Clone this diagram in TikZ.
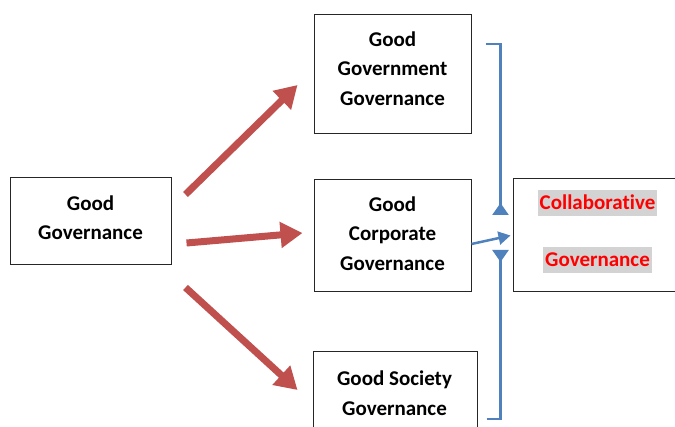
\documentclass[tikz,border=0pt]{standalone}
\usepackage{fontspec}
\setmainfont[Ligatures=NoCommon]{Carlito}
\usepackage{tikz}
\usetikzlibrary{
        arrows.meta,
        positioning
    }
\definecolor{arrowred}{RGB}{192,80,77}
\definecolor{linkblue}{RGB}{79,129,189}
\definecolor{hlgray}{RGB}{211,211,211}
\newcommand{\hlbox}[1]{{\setlength{\fboxsep}{2pt}\colorbox{hlgray}{\rule[-4pt]{0pt}{22pt}#1}}}
\tikzset{gov box/.style={draw=black!85,line width=1pt,rectangle,inner sep=0pt}}
\tikzset{gov text/.style={align=center,inner sep=0pt,font=\fontsize{21}{29.5}\selectfont\bfseries}}
\tikzset{red arrow/.style={draw=arrowred,line width=7pt,-{Triangle[length=22pt,width=25pt]}}}
\tikzset{blue link/.style={draw=linkblue,line width=2.5pt}}

\begin{document}
\begin{tikzpicture}[x=1pt,y=-1pt]
                \useasboundingbox (0,0) rectangle (675,427);
                \clip (0,0) rectangle (675,427);
                % boxes
                \node[gov box,minimum width=161pt,minimum height=87pt] (good) at (90.5,221.5) {};
                \node[gov box,minimum width=157pt,minimum height=119pt] (govt) at (392.5,74.5) {};
                \node[gov box,minimum width=157pt,minimum height=112pt] (corp) at (392.5,236) {};
                \node[gov box,minimum width=164pt,minimum height=110pt] (soc) at (395,407) {};
                \node[gov box,minimum width=200pt,minimum height=113pt] (collab) at (613,235.5) {};
                % texts
                \node[gov text] (goodtxt) at (90.5,217.7) {Good\\Governance};
                \node[gov text] (govttxt) at (392.5,68.7) {Good\\Government\\Governance};
                \node[gov text] (corptxt) at (392.5,233.7) {Good\\Corporate\\Governance};
                \node[gov text] (soctxt) at (394.5,393.2) {Good Society\\Governance};
                \node[gov text,text=red] (collabtxt) at (597.5,231.5) {\hlbox{Collaborative}\\[27.5pt]\hlbox{Governance}};
                % red arrows
                \draw[red arrow] ([shift={(14,17)}]good.north east) -- ([shift={(-16,10.5)}]govt.west);
                \draw[red arrow] ([shift={(15,21.5)}]good.east) -- ([shift={(-11,-3)}]corp.west);
                \draw[red arrow] ([shift={(14,22)}]good.south east) -- ([shift={(-15,-17)}]soc.west);
                % blue links
                \draw[blue link,-{Triangle[reversed,length=12pt,width=16pt]}]
                    ([shift={(14,-30.5)}]govt.east) -| ([shift={(-12,-20.5)}]collab.west);
                \draw[blue link,-{Triangle[reversed,length=12pt,width=16pt]}]
                    ([shift={(9,12)}]soc.east) -| ([shift={(-12,14.5)}]collab.west);
                \draw[blue link,-{Triangle[length=12pt,width=13pt]}]
                    ([shift={(0,8)}]corp.east) -- ([shift={(-2,0)}]collab.west);
            \end{tikzpicture}
\end{document}
